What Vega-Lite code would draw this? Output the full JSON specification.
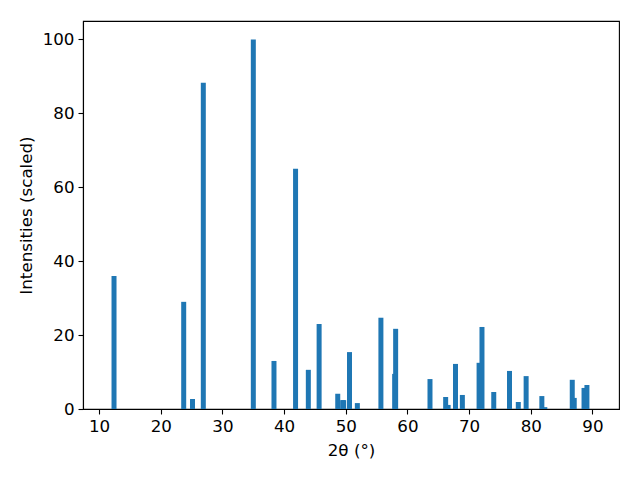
{
  "$schema": "https://vega.github.io/schema/vega-lite/v6.json",
  "width": 536,
  "height": 388,
  "autosize": {"type": "none"},
  "padding": {"left": 83, "top": 21, "right": 21, "bottom": 71},
  "background": "white",
  "data": {
    "values": [
      {"two_theta": 12.42, "intensity": 36.0},
      {"two_theta": 23.72, "intensity": 29.0},
      {"two_theta": 25.15, "intensity": 2.7},
      {"two_theta": 26.9, "intensity": 88.3},
      {"two_theta": 35.01, "intensity": 100.0},
      {"two_theta": 38.36, "intensity": 13.0},
      {"two_theta": 41.86, "intensity": 65.0},
      {"two_theta": 43.93, "intensity": 10.6},
      {"two_theta": 45.68, "intensity": 23.0},
      {"two_theta": 48.7, "intensity": 4.1},
      {"two_theta": 49.5, "intensity": 2.4},
      {"two_theta": 49.66, "intensity": 2.4},
      {"two_theta": 50.61, "intensity": 15.4},
      {"two_theta": 51.88, "intensity": 1.6},
      {"two_theta": 55.7, "intensity": 24.7},
      {"two_theta": 57.93, "intensity": 9.5},
      {"two_theta": 58.09, "intensity": 21.7},
      {"two_theta": 63.66, "intensity": 8.1},
      {"two_theta": 66.2, "intensity": 3.25},
      {"two_theta": 66.6, "intensity": 1.1},
      {"two_theta": 67.8, "intensity": 12.2},
      {"two_theta": 68.91, "intensity": 3.8},
      {"two_theta": 71.62, "intensity": 12.5},
      {"two_theta": 72.09, "intensity": 22.2},
      {"two_theta": 74.0, "intensity": 4.6},
      {"two_theta": 76.55, "intensity": 10.3},
      {"two_theta": 77.98, "intensity": 1.9},
      {"two_theta": 79.25, "intensity": 8.9},
      {"two_theta": 81.8, "intensity": 3.5},
      {"two_theta": 82.28, "intensity": 0.5},
      {"two_theta": 86.73, "intensity": 7.9},
      {"two_theta": 87.05, "intensity": 3.0},
      {"two_theta": 88.64, "intensity": 5.7},
      {"two_theta": 89.11, "intensity": 6.5}
    ]
  },
  "mark": {"type": "bar", "size": 5, "color": "#1f77b4", "orient": "vertical"},
  "encoding": {
    "x": {
      "field": "two_theta",
      "type": "quantitative",
      "scale": {"domain": [8.2, 93.5], "nice": false, "zero": false},
      "axis": {"values": [10, 20, 30, 40, 50, 60, 70, 80, 90], "title": "2θ (°)", "titlePadding": 8}
    },
    "y": {
      "field": "intensity",
      "type": "quantitative",
      "scale": {"domain": [0, 105], "nice": false},
      "axis": {"values": [0, 20, 40, 60, 80, 100], "title": "Intensities (scaled)", "titlePadding": 7}
    }
  },
  "config": {
    "view": {"stroke": "black", "strokeWidth": 1.1},
    "axis": {
      "grid": false,
      "domainColor": "black",
      "domainWidth": 1.1,
      "tickColor": "black",
      "tickWidth": 1.1,
      "tickSize": 5,
      "labelPadding": 4,
      "labelColor": "black",
      "labelFont": "DejaVu Sans",
      "labelFontSize": 16.7,
      "titleColor": "black",
      "titleFont": "DejaVu Sans",
      "titleFontSize": 16.7,
      "titleFontWeight": "normal"
    }
  }
}
